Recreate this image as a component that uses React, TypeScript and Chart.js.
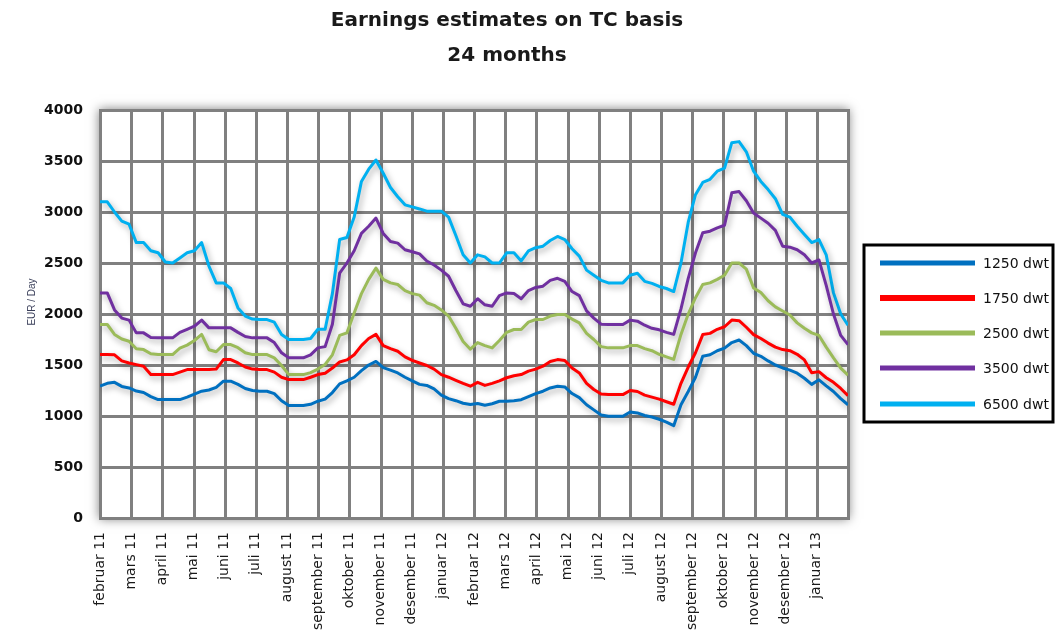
import React, { useEffect, useRef } from "react";
import { Chart, registerables } from "chart.js";

Chart.register(...registerables);

const TITLE_LINES = ["Earnings estimates on TC basis", "24 months"];
const Y_TITLE = "EUR / Day";

const MONTH_LABELS = [
  "februar 11", "mars 11", "april 11", "mai 11", "juni 11", "juli 11",
  "august 11", "september 11", "oktober 11", "november 11", "desember 11", "januar 12",
  "februar 12", "mars 12", "april 12", "mai 12", "juni 12", "juli 12",
  "august 12", "september 12", "oktober 12", "november 12", "desember 12", "januar 13",
];

const SERIES_NAMES = ["1250 dwt", "1750 dwt", "2500 dwt", "3500 dwt", "6500 dwt"];
const SERIES_COLORS = ["#0070C0", "#FF0000", "#9BBB59", "#7030A0", "#00B0F0"];

// weekly estimates, EUR / Day
const dwt1250 = [
  1292, 1320, 1330, 1290, 1275, 1245, 1230, 1190, 1161, 1161,
  1161, 1161, 1185, 1215, 1243, 1255, 1280, 1341, 1341, 1310,
  1270, 1250, 1243, 1243, 1220, 1150, 1102, 1102, 1102, 1115,
  1145, 1165, 1230, 1315, 1345, 1380, 1445, 1500, 1535, 1475,
  1450, 1422, 1380, 1345, 1310, 1300, 1265, 1205, 1170, 1150,
  1125, 1112, 1122, 1105, 1120, 1145, 1145, 1150, 1160, 1190,
  1220, 1243, 1275, 1292, 1285, 1220, 1180, 1110, 1060, 1010,
  997, 997, 997, 1040, 1030, 1005, 990, 968, 940, 905,
  1110, 1240, 1380, 1586, 1600, 1640, 1665, 1720, 1745, 1690,
  1615, 1585, 1540, 1500, 1471, 1450, 1420, 1370, 1310, 1355,
  1295, 1240, 1170, 1110,
];

const dwt1750 = [
  1602, 1602, 1600, 1540, 1520, 1504, 1488, 1406, 1406, 1406,
  1406, 1430, 1455, 1455, 1455, 1455, 1460, 1553, 1553, 1520,
  1480, 1460, 1455, 1455, 1430, 1380, 1357, 1357, 1357, 1380,
  1406, 1420, 1470, 1530, 1550, 1600, 1690, 1760, 1800, 1690,
  1660, 1635, 1580, 1545, 1520, 1495, 1460, 1406, 1380, 1350,
  1320, 1292, 1330, 1300, 1320, 1345, 1375, 1395, 1406, 1440,
  1460, 1488, 1535, 1553, 1545, 1470, 1422, 1320, 1260, 1215,
  1210, 1210, 1210, 1250, 1240, 1205, 1185, 1165, 1140, 1115,
  1320, 1480, 1620, 1798, 1810, 1850, 1875, 1940, 1935, 1870,
  1798, 1760, 1715, 1675, 1651, 1640, 1605, 1550, 1425, 1435,
  1375, 1330, 1270, 1200,
];

const dwt2500 = [
  1897, 1897, 1800, 1755, 1733, 1660, 1651, 1610, 1602, 1602,
  1602, 1665, 1695, 1740, 1800, 1650, 1630, 1700, 1700, 1670,
  1620, 1602, 1602, 1602, 1570, 1495, 1406, 1406, 1406, 1425,
  1460, 1505, 1600, 1790, 1815, 2010, 2200, 2340, 2450, 2340,
  2305, 2289, 2230, 2200, 2185, 2110, 2085, 2040, 1980, 1860,
  1730, 1655, 1720, 1690, 1668, 1740, 1820, 1848, 1848, 1920,
  1946, 1946, 1980, 1995, 1995, 1950, 1913, 1810, 1750, 1680,
  1668, 1668, 1668, 1690, 1690, 1660, 1640, 1605, 1580, 1555,
  1800, 2000, 2160, 2289, 2305, 2340, 2380, 2500, 2500, 2440,
  2256, 2210, 2130, 2070, 2030, 1990, 1913, 1860, 1815, 1790,
  1675, 1570, 1470, 1400,
];

const dwt3500 = [
  2207, 2207, 2040, 1960, 1940, 1815, 1815, 1770, 1766, 1766,
  1766, 1820, 1850, 1880, 1940, 1864, 1864, 1864, 1864, 1820,
  1780, 1766, 1766, 1766, 1720, 1620, 1570, 1570, 1570, 1600,
  1668, 1680, 1900, 2400, 2500, 2620, 2790, 2860, 2940, 2790,
  2710, 2695, 2630, 2610, 2590, 2520, 2480, 2430, 2370, 2230,
  2100, 2076, 2150, 2090, 2076, 2180, 2207, 2200, 2150, 2230,
  2260, 2273, 2330, 2350, 2320, 2220, 2180, 2030, 1960, 1900,
  1897, 1897, 1897, 1940, 1930, 1890, 1860, 1845, 1820, 1800,
  2050, 2350, 2600, 2796, 2812, 2845, 2870, 3188, 3200, 3110,
  2990, 2940, 2890, 2820, 2665, 2655, 2630, 2580, 2500, 2530,
  2280, 2000, 1790, 1700,
];

const dwt6500 = [
  3100, 3100, 3000, 2910, 2880, 2700, 2700, 2620, 2600, 2510,
  2500, 2550, 2600, 2620, 2700, 2470, 2305, 2305, 2250, 2060,
  1980, 1950, 1945, 1945, 1920, 1800, 1750, 1750, 1750, 1760,
  1850, 1850, 2200, 2730, 2750, 2950, 3300, 3420, 3510, 3380,
  3240, 3150, 3070, 3050, 3030, 3008, 3008, 3008, 2950, 2770,
  2580, 2500, 2580, 2560, 2500, 2500, 2600, 2600, 2520, 2620,
  2650, 2665, 2720, 2760, 2730, 2640, 2567, 2430, 2380, 2330,
  2305, 2305, 2305, 2380, 2400, 2320, 2300, 2270, 2250, 2220,
  2500, 2900, 3170, 3290, 3320, 3400, 3430, 3680, 3690, 3590,
  3400, 3300, 3220, 3130, 2976, 2950, 2860, 2780, 2700, 2730,
  2580, 2207, 2000, 1890,
];

const Y_MIN = 0;
const Y_MAX = 4000;
const Y_STEP = 500;

const GRID_COLOR = "#808080";

export default function App() {
  const ref = useRef<HTMLCanvasElement>(null);

  useEffect(() => {
    document.body.style.margin = "0";
    const canvas = ref.current;
    if (!canvas) return;
    const series = [dwt1250, dwt1750, dwt2500, dwt3500, dwt6500];
    const months = MONTH_LABELS.length;

    const decorPlugin = {
      id: "decor",
      beforeDatasetsDraw(chart: any) {
        const ctx = chart.ctx;
        const area = chart.chartArea;
        const left = area.left, right = area.right, top = area.top, bottom = area.bottom;
        const h = bottom - top;
        const w = right - left;

        ctx.save();
        ctx.shadowColor = "rgba(0,0,0,0.5)";
        ctx.shadowBlur = 10;
        ctx.fillStyle = "#ffffff";
        ctx.fillRect(left - 1, top - 1, w + 2, h + 2);
        ctx.restore();

        ctx.save();
        ctx.strokeStyle = GRID_COLOR;
        ctx.lineWidth = 3;
        const steps = Math.round((Y_MAX - Y_MIN) / Y_STEP);
        for (let k = 0; k <= steps; k++) {
          const y = Math.round(bottom - (k / steps) * h) + 0.5;
          ctx.beginPath();
          ctx.moveTo(left - 1, y);
          ctx.lineTo(right + 2, y);
          ctx.stroke();
        }
        for (let m = 0; m <= months; m++) {
          const x = Math.round(left + (m / months) * w) + 0.5;
          ctx.beginPath();
          ctx.moveTo(x, top - 1);
          ctx.lineTo(x, bottom + 2);
          ctx.stroke();
        }
        ctx.restore();

        ctx.save();
        ctx.shadowColor = "rgba(0,0,0,0.35)";
        ctx.shadowBlur = 6;
        ctx.shadowOffsetX = 2;
        ctx.shadowOffsetY = 3;
      },
      afterDatasetsDraw(chart: any) {
        chart.ctx.restore();
      },
      afterDraw(chart: any) {
        const ctx = chart.ctx;
        ctx.save();
        // title
        ctx.fillStyle = "#1a1a1a";
        ctx.font = "bold 20px 'DejaVu Sans'";
        ctx.textAlign = "center";
        ctx.textBaseline = "middle";
        ctx.fillText(TITLE_LINES[0], 507, 21);
        ctx.fillText(TITLE_LINES[1], 507, 56);

        // y axis title
        ctx.save();
        ctx.translate(32, 302);
        ctx.rotate(-Math.PI / 2);
        ctx.font = "10px 'Liberation Sans'";
        ctx.fillStyle = "#3a3f5a";
        ctx.fillText(Y_TITLE, 0, 0);
        ctx.restore();

        // legend box
        const bx = 864, by = 245, bw = 189, bh = 177;
        ctx.fillStyle = "#ffffff";
        ctx.fillRect(bx, by, bw, bh);
        ctx.lineWidth = 3;
        ctx.strokeStyle = "#000000";
        ctx.strokeRect(bx, by, bw, bh);
        const ys = [263, 298, 333, 368, 404];
        chart.data.datasets.forEach((ds: any, k: number) => {
          const y = ys[k];
          ctx.beginPath();
          ctx.strokeStyle = ds.borderColor;
          ctx.lineWidth = k === 1 ? 6 : 5;
          ctx.lineCap = "butt";
          ctx.moveTo(880, y);
          ctx.lineTo(975, y);
          ctx.stroke();
          ctx.fillStyle = "#111111";
          ctx.font = "14px 'DejaVu Sans'";
          ctx.textAlign = "left";
          ctx.textBaseline = "middle";
          ctx.fillText(ds.label, 983, y + 1);
        });
        ctx.restore();
      },
    };

    const chart = new Chart(canvas, {
      type: "line",
      data: {
        datasets: series.map((arr, k) => ({
          label: SERIES_NAMES[k],
          data: arr.map((v, i) => ({ x: (i * months) / (arr.length - 1), y: v })),
          borderColor: SERIES_COLORS[k],
          backgroundColor: SERIES_COLORS[k],
          borderWidth: 3,
          pointRadius: 0,
          tension: 0,
          fill: false,
          borderJoinStyle: "round" as const,
        })),
      },
      options: {
        animation: false,
        responsive: false,
        maintainAspectRatio: false,
        layout: { padding: { top: 110, right: 207, left: 0, bottom: 0 } },
        plugins: {
          legend: { display: false },
          title: { display: false },
          tooltip: { enabled: false },
        },
        scales: {
          x: {
            type: "linear",
            min: 0,
            max: months,
            afterFit: (s: any) => {
              s.height = 120;
            },
            ticks: {
              stepSize: 1,
              autoSkip: false,
              minRotation: 90,
              maxRotation: 90,
              padding: 14,
              color: "#1a1a1a",
              font: { family: "'DejaVu Sans'", size: 14 },
              callback: (v: any) => MONTH_LABELS[Number(v)] ?? "",
            },
            grid: { display: false, drawTicks: false },
            border: { display: false },
          },
          y: {
            min: Y_MIN,
            max: Y_MAX,
            afterFit: (s: any) => {
              s.width = 100;
            },
            ticks: {
              stepSize: Y_STEP,
              padding: 17,
              color: "#111111",
              font: { family: "'DejaVu Sans'", size: 14, weight: "bold" },
              callback: (v: any) => String(v),
            },
            grid: { display: false, drawTicks: false },
            border: { display: false },
          },
        },
      },
      plugins: [decorPlugin],
    } as any);

    return () => chart.destroy();
  }, []);

  return (
    <div style={{ width: 1055, height: 638, background: "#ffffff" }}>
      <canvas ref={ref} width={1055} height={638} style={{ display: "block", width: 1055, height: 638 }} />
    </div>
  );
}
